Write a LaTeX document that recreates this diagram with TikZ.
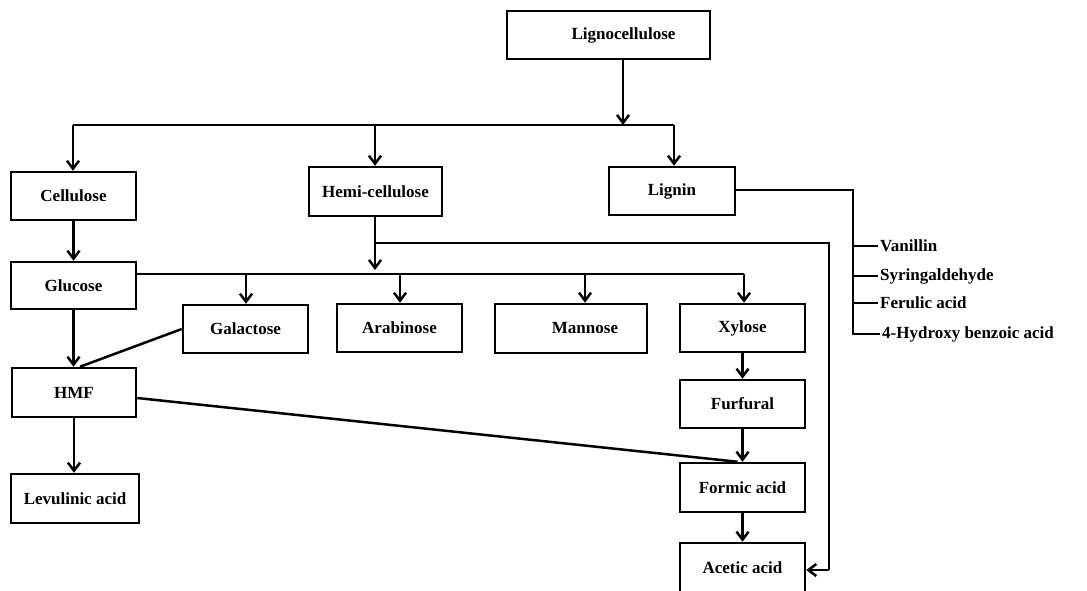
\documentclass[tikz,border=0pt]{standalone}
\usepackage{fontspec}
\setmainfont{Liberation Serif}
\usetikzlibrary{arrows.meta}
\begin{document}
\begin{tikzpicture}[x=1pt,y=-1pt,
  box/.style={draw,line width=2.5pt,minimum width=#1,minimum height=48pt,inner sep=0pt,
    font=\fontsize{17}{20}\selectfont\bfseries},
  lbl/.style={anchor=west,inner sep=2pt,font=\fontsize{17}{20}\selectfont\bfseries},
  ln/.style={line width=2.5pt},
  arr/.style={line width=2.5pt,-{Straight Barb[length=8pt,width=12pt]}}]
\useasboundingbox (0,0) rectangle (1087,590);
% boxes
\node[box=203pt] (lig) at (608.5,35) {\hspace*{30pt}Lignocellulose};
\node[box=125pt] (cel) at (73.5,196) {Cellulose};
\node[box=133pt,minimum height=49pt] (hemi) at (375.5,191.5) {Hemi-cellulose};
\node[box=126pt] (lgn) at (672,191) {Lignin};
\node[box=125pt,minimum height=47pt] (glu) at (73.5,285.5) {Glucose};
\node[box=125pt] (gal) at (245.5,329) {Galactose};
\node[box=125pt] (ara) at (399.5,328) {Arabinose};
\node[box=152pt,minimum height=49pt] (man) at (571,328.5) {\hspace*{28pt}Mannose};
\node[box=125pt] (xyl) at (742.5,328) {Xylose};
\node[box=124pt,minimum height=49pt] (hmf) at (74,392.5) {HMF};
\node[box=128pt,minimum height=49pt] (lev) at (75,498.5) {Levulinic acid};
\node[box=125pt] (fur) at (742.5,404) {Furfural};
\node[box=125pt,minimum height=49pt] (for) at (742.5,487.5) {Formic acid};
\node[box=125pt,minimum height=50pt] (ace) at (742.5,568) {Acetic acid};
% lignin products
\node[lbl] (van) at (878,246) {Vanillin};
\node[lbl] (syr) at (878,276) {Syringaldehyde};
\node[lbl] (fer) at (878,303) {Ferulic acid};
\node[lbl] (hyd) at (880,334) {4-Hydroxy benzoic acid};
% coordinates
\coordinate (top) at (623,125);
\coordinate (hj) at (375,243);
\coordinate (gj) at (375,274);
\coordinate (tr) at (853,190);
% lignocellulose split
\draw[arr] (lig.south -| top) -- (top);
\draw[ln] (73,125) -- (674,125);
\draw[arr] (73,125) -- (cel.north -| 73,0);
\draw[arr] (375,125) -- (hemi.north -| 375,0);
\draw[arr] (674,125) -- (lgn.north -| 674,0);
% lignin branches
\draw[ln] (lgn.east |- tr) -- (tr) -- (853,334) -- (hyd.west |- 0,334);
\draw[ln] (853,246) -- (van.west);
\draw[ln] (853,276) -- (syr.west);
\draw[ln] (853,303) -- (fer.west);
% cellulose
\draw[arr] (cel.south) -- (cel.south |- glu.north);
% hemicellulose
\draw[arr] (hemi.south -| gj) -- (375,270);
\draw[ln] (hj) -- (829,243) -- (829,570);
\draw[arr] (829,570) -- (ace.east |- 0,570);
% glucose bar
\draw[ln] (glu.east |- gj) -- (744,274);
\draw[arr] (246,274) -- (gal.north -| 246,0);
\draw[arr] (400,274) -- (ara.north -| 400,0);
\draw[arr] (585,274) -- (man.north -| 585,0);
\draw[arr] (744,274) -- (xyl.north -| 744,0);
% HMF
\draw[arr] (glu.south) -- (glu.south |- hmf.north);
\draw[ln] (gal.west) -- ([xshift=6pt]hmf.north);
\draw[arr] (hmf.south) -- (hmf.south |- lev.north);
\draw[ln] (hmf.east |- 0,398) -- ([xshift=-5pt]for.north);
% xylose chain
\draw[arr] (xyl.south -| fur.north) -- (fur.north);
\draw[arr] (fur.south) -- (for.north);
\draw[arr] (for.south) -- (ace.north);
\end{tikzpicture}
\end{document}
